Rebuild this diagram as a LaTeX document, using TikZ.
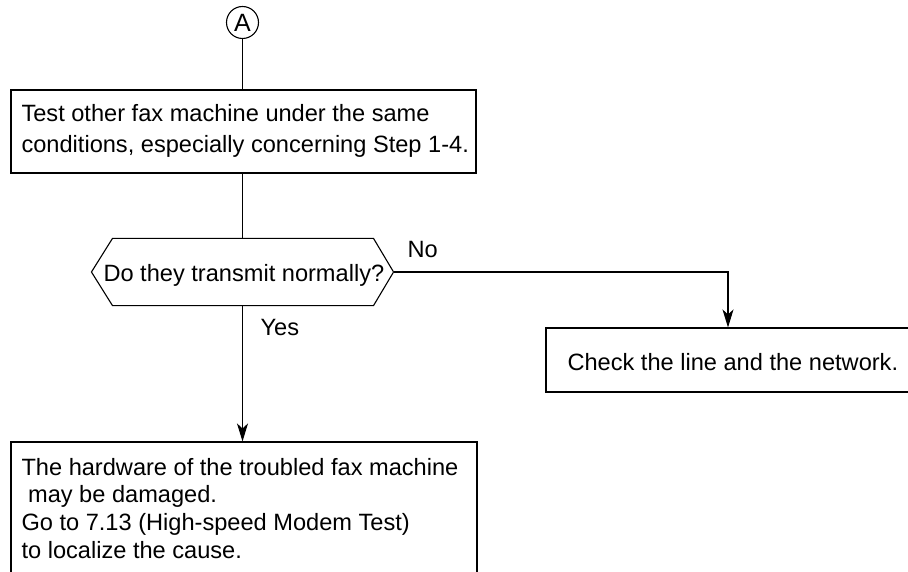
\documentclass[tikz,border=0pt]{standalone}
\usepackage{fontspec}
\setmainfont{Liberation Sans}
\usetikzlibrary{arrows.meta}
\begin{document}
\begin{tikzpicture}[x=1pt,y=-1pt,
  line width=1.1pt,
  txt/.style={font=\fontsize{23.6}{31}\selectfont, inner sep=0pt, anchor=base west},
  boxshape/.style={draw, rectangle, inner sep=0pt},
  arr/.style={-{Stealth[length=18pt,width=11pt,inset=5pt]}}]
\useasboundingbox (0,0) rectangle (908,572);
% connector circle
\node[draw, circle, minimum size=32pt, inner sep=0pt, font=\fontsize{25}{25}\selectfont] (A) at (242.5,22.5) {A};
% box 1
\node[boxshape, minimum width=465pt, minimum height=83pt] (b1) at (243.5,131.5) {};
\node[txt] (t1) at (21,121.5) {\begin{tabular}[t]{@{}l@{}}Test other fax machine under the same\\conditions, especially concerning Step 1-4.\end{tabular}};
% decision
\node[minimum width=301pt, minimum height=66pt, inner sep=0pt] (dec) at (242.5,272) {};
\draw (dec.west) -- ([xshift=21pt]dec.north west) -- ([xshift=-20pt]dec.north east) -- (dec.east)
  -- ([xshift=-20pt]dec.south east) -- ([xshift=21pt]dec.south west) -- cycle;
\node[txt] (t2) at (103,281.5) {Do they transmit normally?};
% box 3
\node[boxshape, minimum width=370pt, minimum height=64pt] (b3) at (731,360) {};
\node[txt] (t3) at (567,370) {Check the line and the network.};
% box 4
\node[boxshape, minimum width=466pt, minimum height=150pt] (b4) at (244,517) {};
\node[txt, font=\fontsize{23.6}{27.7}\selectfont] (t4) at (21,475) {\begin{tabular}[t]{@{}l@{}}The hardware of the troubled fax machine\\{\ }may be damaged.\\Go to 7.13 (High-speed Modem Test)\\to localize the cause.\end{tabular}};
% labels
\node[txt] (no) at (407,258) {No};
\node[txt] (yes) at (260,335) {Yes};
% connectors
\draw (A) -- (A |- b1.north);
\draw (A |- b1.south) -- (A |- dec.north);
\draw[arr] (A |- dec.south) -- (A |- b4.north);
\draw[arr] (dec.east) -| ([xshift=-3pt]b3.north);
\end{tikzpicture}
\end{document}
